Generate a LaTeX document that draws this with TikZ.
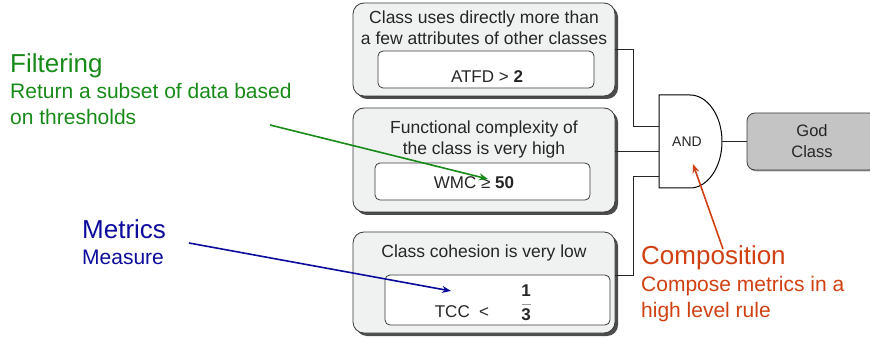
\documentclass[tikz,border=0pt]{standalone}
\usepackage{fontspec}
\setmainfont{Liberation Sans}
\usetikzlibrary{shadows,arrows.meta,calc}

\definecolor{filtgreen}{RGB}{24,138,24}
\definecolor{metricblue}{RGB}{12,12,156}
\definecolor{compred}{RGB}{208,64,18}
\definecolor{boxfill}{RGB}{240,241,241}
\definecolor{boxline}{RGB}{58,58,58}
\definecolor{godfill}{RGB}{196,196,196}

\begin{document}
\begin{tikzpicture}[x=1pt,y=-1pt,
  outerbox/.style={draw=boxline, fill=boxfill, rounded corners=11pt, line width=0.8pt,
    inner sep=0pt, drop shadow={shadow xshift=3pt, shadow yshift=-3pt, fill=black!70, opacity=1}},
  innerbox/.style={draw=boxline, fill=white, rounded corners=5pt, line width=0.8pt, inner sep=0pt},
  godbox/.style={draw=boxline, fill=godfill, rounded corners=8pt, line width=0.8pt, inner sep=0pt,
    drop shadow={shadow xshift=1.5pt, shadow yshift=-1.5pt, fill=black!50, opacity=0.8},
    font=\fontsize{16.5}{21}\selectfont, align=center, text=black!85},
  boxtext/.style={font=\fontsize{17.5}{21.5}\selectfont, align=center, inner sep=0pt, text=black!85},
  metrictext/.style={font=\fontsize{17}{19}\selectfont, inner sep=0pt, text=black!85},
  wire/.style={draw=black!85, line width=0.8pt},
  gate/.style={draw=black, line width=1pt, fill=white},
  bigtitle/.style={font=\fontsize{26}{28}\selectfont, inner sep=0pt, anchor=base west},
  subtitle/.style={font=\fontsize{21}{26}\selectfont, inner sep=0pt, anchor=base west, align=left},
  pointer/.style={line width=1.6pt, -{Stealth[length=9pt,width=7pt]}}
]
\useasboundingbox (0,0) rectangle (870,339);
\clip (0,0) rectangle (870,339);

% ---- condition 1 ----
% (a multi-line node's base anchor sits on its last line)
\node[outerbox, minimum width=262pt, minimum height=93pt] (b1) at (484,49.5) {};
\node[boxtext, anchor=base] (t1) at (484,45) {Class uses directly more than\\a few attributes of other classes};
\node[innerbox, minimum width=216pt, minimum height=37pt] (i1) at (486,69.5) {};
\node[metrictext, anchor=base] (m1) at (487,83) {ATFD > \textbf{2}};

% ---- condition 2 ----
\node[outerbox, minimum width=262pt, minimum height=104pt] (b2) at (484,160) {};
\node[boxtext, anchor=base] (t2) at (484,155) {Functional complexity of\\the class is very high};
\node[innerbox, minimum width=215pt, minimum height=37pt] (i2) at (482.5,181.5) {};
\node[metrictext, anchor=base] (m2) at (474,189) {WMC ≥ \textbf{50}};

% ---- condition 3 ----
\node[outerbox, minimum width=262pt, minimum height=101pt] (b3) at (484,282.5) {};
\node[boxtext, anchor=base] (t3) at (484,258) {Class cohesion is very low};
\node[innerbox, minimum width=225pt, minimum height=50pt] (i3) at (497.5,300) {};
\node[metrictext, anchor=base] (m3) at (462,317) {TCC\ \ <};
\node[metrictext, align=center, font=\fontsize{17}{13}\selectfont\bfseries] (fr) at (526,303)
  {1\\[-1pt]{\color{black!40}\rule[4pt]{9pt}{0.6pt}}\\[-1pt]3};

% ---- AND gate ----
\draw[gate] (659,95) -- (690,95) arc[start angle=90, end angle=-90, x radius=32pt, y radius=46.5pt]
  -- (659,188) -- cycle;
\node[metrictext, font=\fontsize{14}{16}\selectfont] (andlbl) at (687,142) {AND};
\coordinate (in1) at (659,126);
\coordinate (in2) at (659,151);
\coordinate (in3) at (659,176);
\coordinate (out) at (722,141.5);
\coordinate (bus) at (633,0);

% ---- result ----
\node[godbox, minimum width=130pt, minimum height=57pt] (god) at (812,141.5) {God\\Class};

% ---- wiring ----
\draw[wire] (b1.east) -- (b1.east -| bus) |- (in1);
\draw[wire] (b2.east |- in2) -- (in2);
\draw[wire] ([yshift=7.5pt]b3.east) -- ([yshift=7.5pt]b3.east -| bus) |- (in3);
\draw[wire] (out) -- (god.west);

% ---- annotations ----
\node[bigtitle, text=filtgreen] (filt) at (10,73) {Filtering};
\node[subtitle, text=filtgreen] (filtsub) at (10,125) {Return a subset of data based\\on thresholds};
\node[bigtitle, text=metricblue] (metr) at (82,238) {Metrics};
\node[subtitle, text=metricblue] (metrsub) at (82,265) {Measure};
\node[bigtitle, text=compred] (comp) at (641,265) {Composition};
\node[subtitle, text=compred] (compsub) at (641,317) {Compose metrics in a\\high level rule};

\coordinate (fstart) at (270,125);
\coordinate (ftip) at (488,179);
\coordinate (mstart) at (189,243);
\coordinate (mtip) at (451,291);
\coordinate (cstart) at (723,249);
\coordinate (ctip) at (693,164);

\draw[pointer, filtgreen] (fstart) -- (ftip);
\draw[pointer, metricblue] (mstart) -- (mtip);
\draw[pointer, compred] (cstart) -- (ctip);
\end{tikzpicture}
\end{document}
